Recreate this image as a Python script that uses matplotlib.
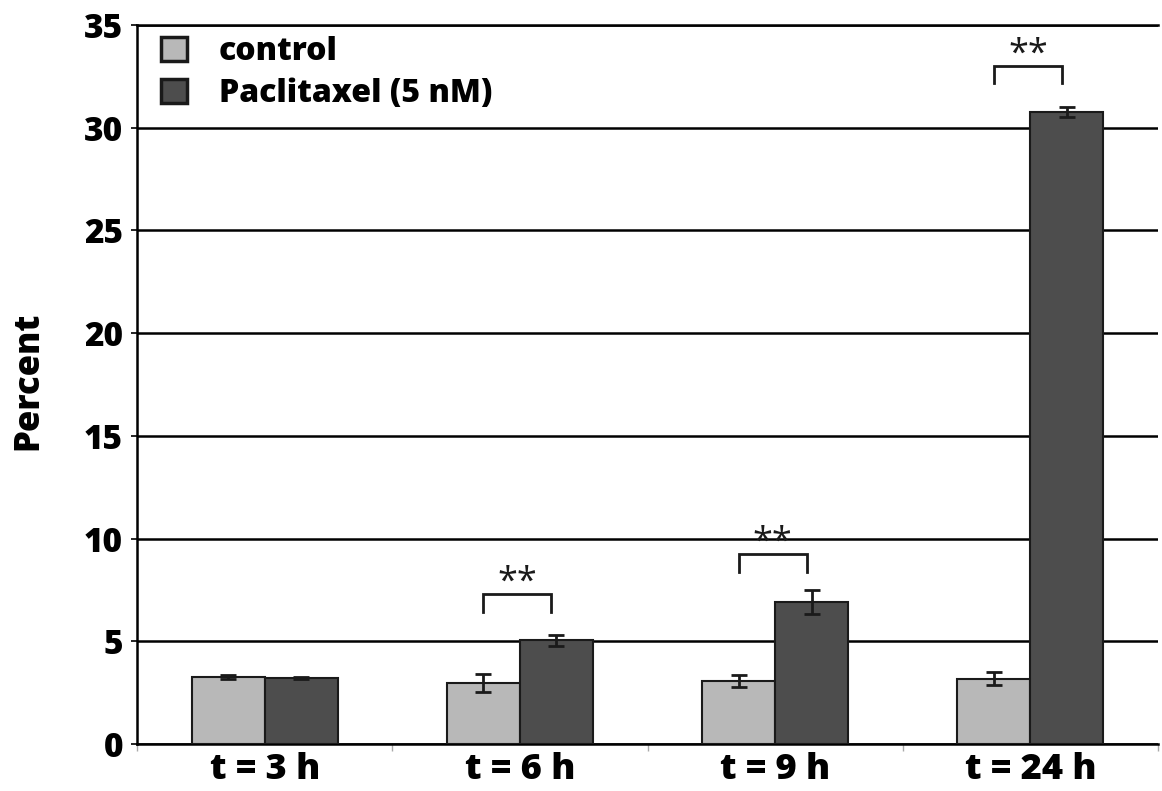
import numpy as np
import matplotlib.pyplot as plt
from matplotlib.ticker import FixedLocator

plt.rcParams['font.family'] = ['Open Sans', 'DejaVu Sans']
plt.rcParams['font.weight'] = 'bold'

# data
timepoints = ['t = 3 h', 't = 6 h', 't = 9 h', 't = 24 h']
control = [3.26, 2.98, 3.07, 3.18]
control_err = [0.08, 0.43, 0.30, 0.31]
paclitaxel = [3.22, 5.05, 6.90, 30.75]
paclitaxel_err = [0.04, 0.27, 0.58, 0.25]
series_names = ['control', 'Paclitaxel (5 nM)']

# significance brackets: (group index, bracket top, leg bottom)
sig_groups = [1, 2, 3]
sig_top = [7.28, 9.25, 33.0]
sig_bottom = [6.44, 8.39, 32.2]
sig_text = ['**', '**', '**']

c_light = '#b8b8b8'
c_dark = '#4d4d4d'
edge = '#1a1a1a'
heavy = 800

fig = plt.figure(figsize=(11.62, 7.91), dpi=100)
ax = fig.add_axes([137 / 1162, 1 - 744 / 791, (1158 - 137) / 1162, (744 - 25) / 791])

x = np.arange(len(timepoints))
w = 0.286
err_kw = dict(ecolor=edge, elinewidth=2, capsize=6, capthick=2)
ax.bar(x - w / 2, control, w, color=c_light, edgecolor=edge, linewidth=1.5,
       yerr=control_err, error_kw=err_kw, label=series_names[0], zorder=3)
ax.bar(x + w / 2, paclitaxel, w, color=c_dark, edgecolor=edge, linewidth=1.5,
       yerr=paclitaxel_err, error_kw=err_kw, label=series_names[1], zorder=3)

for g, top, bot, txt in zip(sig_groups, sig_top, sig_bottom, sig_text):
    x0 = g - w / 2
    x1 = g + w / 2 - 0.02
    ax.plot([x0, x0, x1, x1], [bot, top, top, bot], color=edge, lw=2,
            solid_joinstyle='miter', zorder=4)
    ax.text((x0 + x1) / 2, top + 0.55, txt, ha='center', va='center',
            fontsize=26, fontweight='normal', color=edge)

ax.set_xlim(-0.5, 3.5)
ax.set_ylim(0, 35)
ax.set_yticks(np.arange(0, 36, 5))
ax.yaxis.grid(True, color='black', lw=1.8, zorder=0)
ax.set_axisbelow(True)

ax.set_xticks(x)
ax.set_xticklabels(timepoints, fontsize=26, fontweight=heavy)
ax.xaxis.set_minor_locator(FixedLocator(np.arange(-0.5, 3.6, 1)))
ax.tick_params(axis='x', which='major', length=0, pad=6)
ax.tick_params(axis='x', which='minor', length=5, color='#aaaaaa', width=1)
ax.tick_params(axis='y', length=4, width=1.2, labelsize=24, pad=6)
for lab in ax.get_yticklabels():
    lab.set_fontweight(heavy)

ax.set_ylabel('Percent', fontsize=25, fontweight=heavy)
ax.yaxis.set_label_coords(-0.089, 0.505)

ax.spines['right'].set_visible(False)
for s in ['left', 'bottom', 'top']:
    ax.spines[s].set_linewidth(1.8)
    ax.spines[s].set_color('black')

leg = ax.legend(loc='upper left', bbox_to_anchor=(0.011, 1.002), frameon=False,
                handlelength=0.8, handleheight=0.8, handletextpad=1.0,
                borderaxespad=0, labelspacing=0.3,
                prop={'weight': heavy, 'size': 23})
for h in leg.legend_handles:
    h.set_linewidth(2.5)

fig.savefig('out.png', dpi=100)
